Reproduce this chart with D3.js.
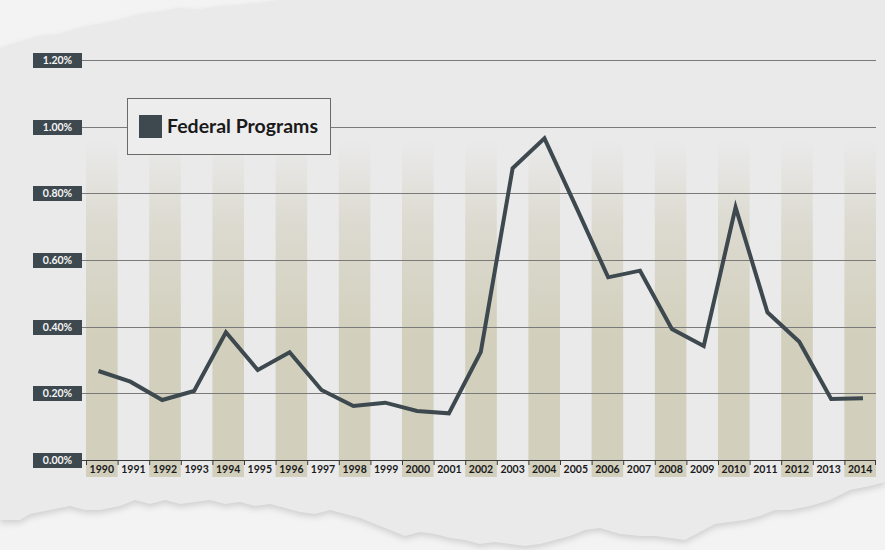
<!DOCTYPE html>
<html>
<head>
<meta charset="utf-8">
<script src="https://cdn.jsdelivr.net/npm/d3@7"></script>
<style>
  html, body { margin: 0; padding: 0; background: #f3f3f3; }
  svg { display: block; }
</style>
</head>
<body>
<svg id="chart" width="885" height="550"></svg>
<script>
// ---- data ----
const years = ["1990","1991","1992","1993","1994","1995","1996","1997","1998","1999","2000","2001","2002","2003","2004","2005","2006","2007","2008","2009","2010","2011","2012","2013","2014"];
const federalPrograms = [0.267,0.235,0.18,0.207,0.383,0.27,0.323,0.21,0.162,0.172,0.147,0.14,0.324,0.875,0.965,0.758,0.548,0.568,0.393,0.342,0.758,0.443,0.355,0.183,0.185];
const yTicks = [0, 0.2, 0.4, 0.6, 0.8, 1.0, 1.2];
const seriesName = "Federal Programs";

// ---- setup ----
const svg = d3.select("#chart");
const W = 885, H = 550;
const lineColor = "#3d494e";

const defs = svg.append("defs");
const blur = defs.append("filter").attr("id", "soft").attr("x", "-5%").attr("y", "-20%").attr("width", "110%").attr("height", "140%");
blur.append("feGaussianBlur").attr("stdDeviation", 3);

const grad = defs.append("linearGradient").attr("id", "barFade")
  .attr("gradientUnits", "userSpaceOnUse").attr("x1", 0).attr("x2", 0).attr("y1", 140).attr("y2", 340);
grad.append("stop").attr("offset", "0%").attr("stop-color", "#d2cfbc").attr("stop-opacity", 0);
grad.append("stop").attr("offset", "40%").attr("stop-color", "#d2cfbc").attr("stop-opacity", 0.55);
grad.append("stop").attr("offset", "100%").attr("stop-color", "#d2cfbc").attr("stop-opacity", 1);

svg.append("rect").attr("width", W).attr("height", H).attr("fill", "#f3f3f3");

const paperPath = "M0,48 L20,42 L40,36 L60,34 L80,28 L100,24 L120,20 L140,14 L160,12 L180,8 L200,10 L220,6 L240,5 L260,3 L280,0 L885,0 L885,12 L860,8 L840,6 L820,10 L800,14 L780,20 L760,24 L740,28 L720,28 L700,26 L680,22 L660,20 L640,18 L620,16 L600,14 L585,14 " +
  "L585,0 L885,0 L885,482 L870,486 L850,490 L830,500 L810,506 L790,510 L775,510 L760,516 L745,520 L730,522 L715,524 L700,532 L685,540 L670,538 L655,536 L640,536 L620,534 L600,528 L585,530 L570,536 L555,540 L540,544 L525,546 L510,544 L495,542 L480,544 L465,540 L450,538 L435,534 L420,532 L405,536 L390,530 L375,524 L360,518 L345,514 L330,510 L315,514 L300,512 L285,508 L270,504 L255,506 L240,502 L225,504 L210,500 L195,502 L180,504 L165,500 L150,504 L135,500 L120,506 L100,510 L85,510 L70,506 L50,510 L30,514 L20,520 L0,520 Z";
svg.append("path").attr("d", paperPath).attr("fill", "#cfcfcf").attr("filter", "url(#soft)").attr("transform", "translate(0,3)");
svg.append("path").attr("d", paperPath).attr("fill", "#eaeaeb");

// ---- scales ----
const xBand = d3.scaleBand().domain(years).range([86, 876]).padding(0);
const xLine = d3.scalePoint().domain(years).range([98.5, 863]);
const y = d3.scaleLinear().domain([0, 1.2]).range([460, 60]);

// shaded bars (every other year)
svg.append("g").selectAll("rect")
  .data(years.filter((d, i) => i % 2 === 0))
  .join("rect")
  .attr("x", d => xBand(d))
  .attr("width", xBand.bandwidth())
  .attr("y", y(0.96))
  .attr("height", 477 - y(0.96))
  .attr("fill", "url(#barFade)");

// gridlines
svg.append("g").selectAll("line")
  .data(yTicks)
  .join("line")
  .attr("x1", 82).attr("x2", 876)
  .attr("y1", d => Math.round(y(d)) + 0.5).attr("y2", d => Math.round(y(d)) + 0.5)
  .attr("stroke", d => d === 0 ? "#3a3a3a" : "#7a7a7a")
  .attr("stroke-width", 1.2);

// y axis labels (dark boxes)
const fmt = d => d.toFixed(2) + "%";
const yl = svg.append("g").selectAll("g").data(yTicks).join("g")
  .attr("transform", d => `translate(33,${Math.round(y(d)) - 7})`);
yl.append("rect").attr("width", 49).attr("height", 15).attr("fill", lineColor);
yl.append("text").attr("x", 24.5).attr("y", 11.2)
  .attr("text-anchor", "middle")
  .attr("font-family", "Lato, 'Open Sans', sans-serif")
  .attr("font-size", 10.5).attr("font-weight", 700)
  .attr("fill", "#f4f4f4")
  .text(d => fmt(d));

// x axis ticks and labels
const gx = svg.append("g").attr("transform", "translate(0,460)");
gx.selectAll("line.tick-mark")
  .data(years)
  .join("line")
  .attr("class", "tick-mark")
  .attr("x1", d => xBand(d) + 0.5).attr("x2", d => xBand(d) + 0.5)
  .attr("y1", 0).attr("y2", 5)
  .attr("stroke", "#3a3a3a").attr("stroke-width", 1);
gx.append("line")
  .attr("x1", xBand.range()[1] - 0.5).attr("x2", xBand.range()[1] - 0.5)
  .attr("y1", 0).attr("y2", 5)
  .attr("stroke", "#3a3a3a");
gx.selectAll("text.xl")
  .data(years)
  .join("text")
  .attr("class", "xl")
  .attr("x", d => xBand(d) + xBand.bandwidth() / 2)
  .attr("y", 13)
  .attr("text-anchor", "middle")
  .attr("font-family", "Lato, 'Open Sans', sans-serif")
  .attr("font-size", 10.5).attr("font-weight", 700)
  .attr("fill", "#1a1a1a")
  .text(d => d);

// line
const line = d3.line()
  .x((d, i) => xLine(years[i]))
  .y(d => y(d));
svg.append("path")
  .datum(federalPrograms)
  .attr("d", line)
  .attr("fill", "none")
  .attr("stroke", lineColor)
  .attr("stroke-width", 4)
  .attr("stroke-linejoin", "miter")
  .attr("stroke-linecap", "butt");

// legend
const lg = svg.append("g").attr("transform", "translate(127,98)");
lg.append("rect").attr("x", 0.5).attr("y", 0.5).attr("width", 203).attr("height", 56)
  .attr("fill", "#ededee").attr("stroke", "#6a6a6a").attr("stroke-width", 1);
lg.append("rect").attr("x", 12).attr("y", 17).attr("width", 23).attr("height", 23).attr("fill", lineColor);
lg.append("text").attr("x", 40).attr("y", 35)
  .attr("font-family", "Lato, 'Open Sans', sans-serif")
  .attr("font-size", 19.5).attr("font-weight", 700)
  .attr("fill", "#1a1a1a")
  .text(seriesName);
</script>
</body>
</html>
